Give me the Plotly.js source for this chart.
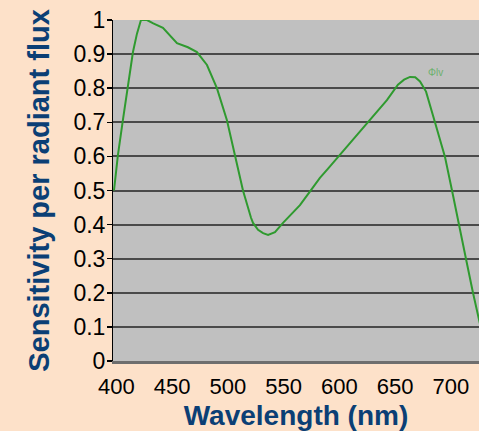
<!DOCTYPE html>
<html>
<head>
<meta charset="utf-8">
<script src="https://cdn.plot.ly/plotly-3.0.1.min.js"></script>
<style>
html,body{margin:0;padding:0;background:#fde1c9;}
#chart{width:479px;height:431px;}
</style>
</head>
<body>
<div id="chart"></div>
<script>
// Wavelength (nm)
const wavelength = [397.8, 401.3, 405.8, 410.3, 414.8, 418.4, 422, 427.4, 433, 441.7, 448, 454.3, 464.1, 472.2, 481.2, 490.1, 499.1, 506.3, 513.5, 520.7, 522.5, 527, 531.5, 536, 542.2, 549.4, 557, 564.6, 575.3, 582.5, 590, 598.7, 612, 625.6, 642.6, 652.5, 658, 663.3, 668, 672.3, 677.7, 685.7, 694.7, 701, 707.2, 713.5, 719.8, 726];
// Sensitivity per radiant flux
const sensitivity = [0.50, 0.604, 0.707, 0.80, 0.906, 0.96, 1.0, 1.0, 0.99, 0.977, 0.955, 0.932, 0.92, 0.906, 0.868, 0.80, 0.706, 0.598, 0.50, 0.42, 0.405, 0.385, 0.375, 0.37, 0.378, 0.405, 0.43, 0.457, 0.505, 0.537, 0.565, 0.598, 0.65, 0.70, 0.765, 0.81, 0.825, 0.833, 0.832, 0.82, 0.79, 0.70, 0.598, 0.50, 0.405, 0.30, 0.20, 0.11];
const xTicks = [400, 450, 500, 550, 600, 650, 700];
const yTicks = [0, 0.1, 0.2, 0.3, 0.4, 0.5, 0.6, 0.7, 0.8, 0.9, 1];
const yTickLabels = ["0", "0.1", "0.2", "0.3", "0.4", "0.5", "0.6", "0.7", "0.8", "0.9", "1"];
const seriesLabel = "Φlv";

const titleColor = "#0b3f75";
const fontFam = "Liberation Sans, Arial, sans-serif";

const trace = {
  x: wavelength,
  y: sensitivity,
  type: "scatter",
  mode: "lines",
  line: {color: "#2f9a2f", width: 2},
  hoverinfo: "none"
};

const layout = {
  width: 479,
  height: 431,
  margin: {l: 113, r: 0, t: 20, b: 70},
  paper_bgcolor: "#fde1c9",
  plot_bgcolor: "#c0c0c0",
  showlegend: false,
  xaxis: {
    range: [396.9, 725.2],
    tickvals: xTicks,
    ticktext: xTicks.map(String),
    ticks: "outside",
    ticklen: 4,
    tickcolor: "rgba(0,0,0,0)",
    showgrid: false,
    zeroline: false,
    showline: true,
    linecolor: "#6e6e6e",
    linewidth: 3,
    tickfont: {family: fontFam, size: 22, color: "#000"},
    title: {text: "Wavelength (nm)", font: {family: fontFam, size: 28, color: titleColor, weight: "bold"}, standoff: 10},
    automargin: false
  },
  yaxis: {
    range: [0, 1],
    tickvals: yTicks,
    ticktext: yTickLabels,
    ticks: "outside",
    ticklen: 5,
    tickwidth: 1.5,
    tickcolor: "#000",
    ticklabelstandoff: -3,
    showgrid: true,
    gridcolor: "#4a4a4a",
    gridwidth: 2,
    zeroline: false,
    showline: true,
    linecolor: "#000",
    linewidth: 1,
    tickfont: {family: fontFam, size: 23, color: "#000"},
    title: {text: "Sensitivity per radiant flux", font: {family: fontFam, size: 29, color: titleColor, weight: "bold"}, standoff: 15},
    automargin: false
  },
  annotations: [{
    x: 678, y: 0.845, xref: "x", yref: "y",
    text: seriesLabel, showarrow: false, xanchor: "left",
    font: {family: fontFam, size: 10, color: "#6cb06c"}
  }]
};

Plotly.newPlot("chart", [trace], layout, {displayModeBar: false, staticPlot: true});
</script>
</body>
</html>
